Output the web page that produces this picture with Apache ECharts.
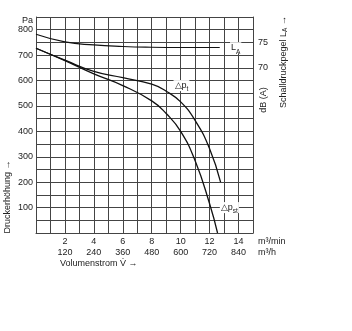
<!DOCTYPE html>
<html>
<head>
<meta charset="utf-8">
<style>
  html, body { margin: 0; padding: 0; background: #fff; }
  #chart { width: 352px; height: 331px; }
</style>
<script src="https://cdn.jsdelivr.net/npm/echarts@6/dist/echarts.min.js"></script>
</head>
<body>
<div id="chart"></div>
<script>
// Fan characteristic: total and static pressure rise, plus sound pressure level
const flowTicks = [2, 4, 6, 8, 10, 12, 14];          // m³/min (labelled ticks)
const pressureTicks = [100, 200, 300, 400, 500, 600, 700, 800]; // Pa
const levelTicks = [70, 75];                            // dB (A)

// Total pressure rise Δp_t
const ptFlow   = [0, 2, 4, 6, 8, 9, 10, 11, 12, 12.76];
const ptValues = [727, 680, 636, 611, 586, 558, 516, 443, 332, 200];

// Static pressure rise Δp_st
const pstFlow   = [0, 2, 4, 6, 8, 9, 10, 11, 12, 12.55];
const pstValues = [727, 678, 626, 580, 520, 470, 400, 284, 115, 0];

// Sound pressure level L_A
const laFlow   = [0, 2, 4, 6, 8, 10, 12.7];
const laValues = [76.6, 75.1, 74.5, 74.2, 74.05, 74.0, 74.0];

const zip = (xs, ys) => xs.map((x, i) => [x, ys[i]]);

const FONT = 'Liberation Sans, Arial, sans-serif';
const TXT = '#222';
const GRID = '#444';

const sub = { fontSize: 6.5, verticalAlign: 'bottom', padding: [0, 0, -3, 0], fontFamily: FONT, color: TXT };
const curveLabel = {
  show: true,
  fontFamily: FONT,
  fontSize: 9,
  color: TXT,
  backgroundColor: '#fff',
  padding: [1, 1, 1, 1],
  rich: { s: sub }
};

const chart = echarts.init(document.getElementById('chart'), null, { renderer: 'canvas' });

chart.setOption({
  animation: false,
  backgroundColor: '#fff',
  grid: { left: 36, top: 17, right: 99, bottom: 98, containLabel: false },
  xAxis: {
    type: 'value',
    min: 0, max: 15, interval: 1,
    axisLine: { show: true, lineStyle: { color: GRID, width: 1 } },
    axisTick: { show: false },
    splitLine: { show: true, lineStyle: { color: GRID, width: 1 } },
    axisLabel: {
      margin: 3,
      fontFamily: FONT, fontSize: 9, color: TXT, lineHeight: 11,
      formatter: v => flowTicks.includes(v) ? v + '\n' + (v * 60) : ''
    },
    name: 'm³/min\nm³/h',
    nameLocation: 'end',
    nameGap: 5,
    nameTextStyle: {
      fontFamily: FONT, fontSize: 9, color: TXT, lineHeight: 11,
      align: 'left', verticalAlign: 'top', padding: [3, 0, 0, 0]
    }
  },
  yAxis: [
    {
      type: 'value',
      min: 0, max: 850, interval: 50,
      axisLine: { show: true, lineStyle: { color: GRID, width: 1 } },
      axisTick: { show: false },
      splitLine: { show: true, lineStyle: { color: GRID, width: 1 } },
      axisLabel: {
        margin: 3,
        fontFamily: FONT, fontSize: 9, color: TXT,
        formatter: v => pressureTicks.includes(v) ? String(v) : ''
      },
      name: 'Pa',
      nameLocation: 'end',
      nameGap: 3,
      nameTextStyle: { fontFamily: FONT, fontSize: 9, color: TXT, align: 'right', padding: [0, 3, -14, 0] }
    },
    {
      type: 'value',
      position: 'right',
      min: 37.5, max: 80, interval: 2.5,
      axisLine: { show: true, lineStyle: { color: GRID, width: 1 } },
      axisTick: { show: false },
      splitLine: { show: false },
      axisLabel: {
        margin: 5,
        fontFamily: FONT, fontSize: 9, color: TXT,
        formatter: v => levelTicks.includes(v) ? String(v) : ''
      }
    }
  ],
  series: [
    {
      name: 'Δp_t',
      type: 'line',
      data: zip(ptFlow, ptValues),
      showSymbol: false,
      smooth: 0.5,
      lineStyle: { color: '#111', width: 1.3 },
      markPoint: {
        symbol: 'circle', symbolSize: 0,
        data: [{ coord: [9.3, 580] }],
        label: Object.assign({}, curveLabel, {
          position: 'right', offset: [-2, 0],
          formatter: '△p{s|t}'
        })
      }
    },
    {
      name: 'Δp_st',
      type: 'line',
      data: zip(pstFlow, pstValues),
      showSymbol: false,
      smooth: 0.5,
      lineStyle: { color: '#111', width: 1.3 },
      markPoint: {
        symbol: 'circle', symbolSize: 0,
        data: [{ coord: [12.5, 100] }],
        label: Object.assign({}, curveLabel, {
          position: 'right', offset: [-2, 0],
          formatter: '△p{s|st}'
        })
      }
    },
    {
      name: 'L_A',
      type: 'line',
      yAxisIndex: 1,
      data: zip(laFlow, laValues),
      showSymbol: false,
      smooth: 0.5,
      lineStyle: { color: '#111', width: 1.2 },
      markPoint: {
        symbol: 'circle', symbolSize: 0,
        data: [{ coord: [13.2, 73.95] }],
        label: Object.assign({}, curveLabel, {
          position: 'right', offset: [-2, 0],
          formatter: 'L{s|A}'
        })
      }
    }
  ],
  graphic: [
    {
      type: 'text',
      left: 60, top: 259,
      style: { text: 'Volumenstrom V̇ →', fontFamily: FONT, fontSize: 9, fill: TXT }
    },
    {
      type: 'text',
      x: 8, y: 197, rotation: Math.PI / 2,
      style: { text: 'Druckerhöhung →', fontFamily: FONT, fontSize: 9, fill: TXT, align: 'center', verticalAlign: 'middle' }
    },
    {
      type: 'text',
      x: 264, y: 100, rotation: Math.PI / 2,
      style: { text: 'dB (A)', fontFamily: FONT, fontSize: 9, fill: TXT, align: 'center', verticalAlign: 'middle' }
    },
    {
      type: 'text',
      x: 284, y: 62, rotation: Math.PI / 2,
      style: {
        text: 'Schalldruckpegel L{s|A} →',
        fontFamily: FONT, fontSize: 9, fill: TXT, align: 'center', verticalAlign: 'middle',
        rich: { s: { fontSize: 6.5, fill: TXT, fontFamily: FONT, verticalAlign: 'bottom' } }
      }
    }
  ]
});
</script>
</body>
</html>
